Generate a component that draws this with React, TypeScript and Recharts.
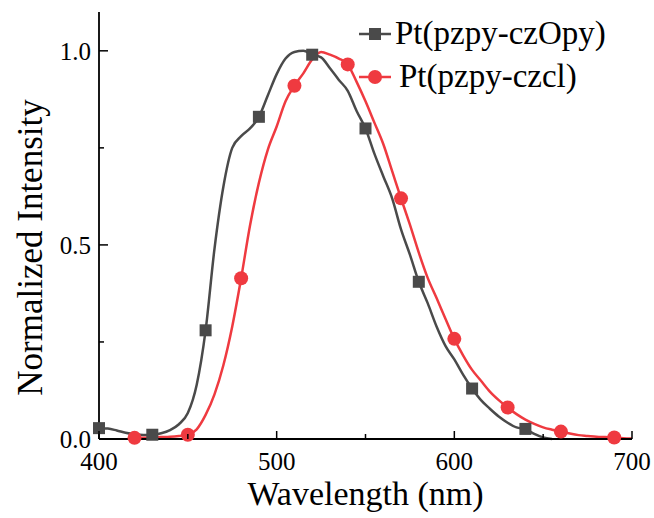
import { LineChart, Line, XAxis, YAxis, Legend } from 'recharts'

const WAVELENGTHS = [
  400, 405, 410, 415, 420, 425, 430, 435, 440, 445, 450, 455, 460, 465, 470, 475, 480, 485, 490, 495,
  500, 505, 510, 515, 520, 525, 530, 535, 540, 545, 550, 555, 560, 565, 570, 575, 580, 585, 590, 595,
  600, 605, 610, 615, 620, 625, 630, 635, 640, 645, 650, 655, 660, 665, 670, 675, 680, 685, 690, 695,
  700,
]

// Pt(pzpy-czOpy), 400..655 nm every 5 nm
const CZOPY_START = 400
const CZOPY = [
  0.028, 0.027, 0.022, 0.016, 0.012, 0.01, 0.011, 0.015, 0.023, 0.038, 0.067, 0.14, 0.28, 0.49, 0.65,
  0.75, 0.78, 0.8, 0.83, 0.885, 0.94, 0.98, 0.997, 1.0, 0.99, 0.983, 0.955, 0.925, 0.897, 0.845, 0.8,
  0.735, 0.677, 0.62, 0.54, 0.475, 0.405, 0.35, 0.29, 0.24, 0.205, 0.165, 0.13, 0.1, 0.078, 0.058,
  0.042, 0.03, 0.026, 0.013, 0.004, 0,
]

// Pt(pzpy-czcl), 420..700 nm every 5 nm
const CZCL_START = 420
const CZCL = [
  0.003, 0.003, 0.004, 0.005, 0.006, 0.008, 0.011, 0.025, 0.062, 0.115, 0.19, 0.29, 0.414, 0.55, 0.66,
  0.745, 0.805, 0.87, 0.91, 0.942, 0.978, 0.997, 0.99, 0.98, 0.965, 0.92, 0.87, 0.815, 0.76, 0.69,
  0.62, 0.552, 0.48, 0.415, 0.363, 0.31, 0.258, 0.215, 0.178, 0.15, 0.122, 0.1, 0.081, 0.064, 0.05,
  0.039, 0.03, 0.024, 0.019, 0.014, 0.01, 0.008, 0.006, 0.005, 0.004, 0.002, 0.001,
]

const CZOPY_MARKERS = [400, 430, 460, 490, 520, 550, 580, 610, 640]
const CZCL_MARKERS = [420, 450, 480, 510, 540, 570, 600, 630, 660, 690]

const X_TICKS = [400, 450, 500, 550, 600, 650, 700]
const X_TOP_TICKS = [400, 430, 460, 490, 520, 550, 580, 610, 640, 670, 700]
const Y_TICKS = [0, 0.25, 0.5, 0.75, 1.0]
const Y_RIGHT_TICKS = [0, 0.11, 0.22, 0.33, 0.44, 0.55, 0.66, 0.77, 0.88, 0.99, 1.1]

const GREY = '#4a4a4a'
const RED = '#ef3a40'
const FONT = "'Liberation Serif', 'Times New Roman', serif"

const data = WAVELENGTHS.map((wl) => {
  const i = (wl - CZOPY_START) / 5
  const j = (wl - CZCL_START) / 5
  return {
    wl,
    czopy: i >= 0 && i < CZOPY.length ? CZOPY[i] : null,
    czcl: j >= 0 && j < CZCL.length ? CZCL[j] : null,
  }
})

const squareDot = (props: any) => {
  const { cx, cy, payload, index } = props
  if (cx == null || cy == null || !CZOPY_MARKERS.includes(payload.wl)) return <g key={`s-${index}`} />
  return <rect key={`s-${index}`} x={cx - 6} y={cy - 6} width={12} height={12} fill={GREY} />
}

const circleDot = (props: any) => {
  const { cx, cy, payload, index } = props
  if (cx == null || cy == null || !CZCL_MARKERS.includes(payload.wl)) return <g key={`c-${index}`} />
  return <circle key={`c-${index}`} cx={cx} cy={cy} r={7} fill={RED} />
}

const BottomTick = (props: any) => {
  const { x, y, payload } = props
  const major = payload.value % 100 === 0
  return (
    <g>
      <line x1={x} x2={x} y1={y} y2={y - (major ? 8 : 5)} stroke="#000" strokeWidth={1.5} />
      {major && (
        <text x={x} y={y + 31} textAnchor="middle" style={{ fontFamily: FONT, fontSize: 25 }} fill="#000">
          {payload.value}
        </text>
      )}
    </g>
  )
}

const LeftTick = (props: any) => {
  const { x, y, payload } = props
  const major = Math.abs(payload.value * 2 - Math.round(payload.value * 2)) < 1e-6
  return (
    <g>
      <line x1={x} x2={x + (major ? 9 : 5)} y1={y} y2={y} stroke="#000" strokeWidth={1.5} />
      {major && (
        <text x={x - 8} y={y + 9} textAnchor="end" style={{ fontFamily: FONT, fontSize: 25 }} fill="#000">
          {payload.value.toFixed(1)}
        </text>
      )}
    </g>
  )
}

const TopTick = (props: any) => {
  const { x, y } = props
  return <line x1={x} x2={x} y1={y} y2={y + 4} stroke="#000" strokeWidth={1.2} />
}

const RightTick = (props: any) => {
  const { x, y } = props
  return <line x1={x} x2={x - 4} y1={y} y2={y} stroke="#000" strokeWidth={1.2} />
}

const LEGEND_ITEMS = [
  { name: 'Pt(pzpy-czOpy)', color: GREY, shape: 'square', gap: 4 },
  { name: 'Pt(pzpy-czcl)', color: RED, shape: 'circle', gap: 8 },
]

const renderLegend = () => (
  <div style={{ fontFamily: FONT, fontSize: 33, color: '#000' }}>
    {LEGEND_ITEMS.map((it) => (
      <div key={it.name} style={{ display: 'flex', alignItems: 'center', height: 43 }}>
        <svg width={32} height={20} style={{ display: 'block' }}>
          <line x1={0} x2={32} y1={10} y2={10} stroke={it.color} strokeWidth={2.5} />
          {it.shape === 'square' ? (
            <rect x={10} y={4} width={12} height={12} fill={it.color} />
          ) : (
            <circle cx={16} cy={10} r={7} fill={it.color} />
          )}
        </svg>
        <span style={{ marginLeft: it.gap, lineHeight: '43px', whiteSpace: 'nowrap' }}>{it.name}</span>
      </div>
    ))}
  </div>
)

export default function App() {
  return (
    <div style={{ position: 'absolute', left: 0, top: 0, width: 654, height: 518, fontFamily: FONT }}>
      <LineChart width={654} height={518} data={data} margin={{ top: 12, right: 22, bottom: 0, left: 0 }}>
        <XAxis
          dataKey="wl"
          type="number"
          domain={[400, 700]}
          ticks={X_TICKS}
          height={79}
          tickSize={0}
          tickMargin={0}
          tickLine={false}
          tick={<BottomTick />}
          axisLine={{ stroke: '#000', strokeWidth: 1.8 }}
          label={{
            content: (p: any) => (
              <text
                x={p.viewBox.x + p.viewBox.width / 2}
                y={505}
                textAnchor="middle"
                style={{ fontFamily: FONT, fontSize: 34 }}
                fill="#000"
              >
                Wavelength (nm)
              </text>
            ),
          }}
        />
        <XAxis
          xAxisId="top"
          orientation="top"
          dataKey="wl"
          type="number"
          domain={[400, 700]}
          ticks={X_TOP_TICKS}
          height={0}
          tickSize={0}
          tickMargin={0}
          tickLine={false}
          tick={<TopTick />}
          axisLine={{ stroke: '#000', strokeWidth: 1.8 }}
        />
        <YAxis
          type="number"
          domain={[0, 1.1]}
          ticks={Y_TICKS}
          width={99}
          tickSize={0}
          tickMargin={0}
          tickLine={false}
          tick={<LeftTick />}
          axisLine={{ stroke: '#000', strokeWidth: 1.8 }}
          label={{
            content: (p: any) => (
              <text
                x={30}
                y={p.viewBox.y + p.viewBox.height / 2 + 22}
                transform={`rotate(-90, 30, ${p.viewBox.y + p.viewBox.height / 2 + 22})`}
                textAnchor="middle"
                dominantBaseline="central"
                style={{ fontFamily: FONT, fontSize: 35 }}
                fill="#000"
              >
                Normalized Intensity
              </text>
            ),
          }}
        />
        <YAxis
          yAxisId="right"
          orientation="right"
          type="number"
          domain={[0, 1.1]}
          ticks={Y_RIGHT_TICKS}
          width={0}
          tickSize={0}
          tickMargin={0}
          tickLine={false}
          tick={<RightTick />}
          axisLine={{ stroke: '#000', strokeWidth: 1.8 }}
        />
        <Legend
          layout="vertical"
          align="center"
          verticalAlign="middle"
          content={renderLegend}
          wrapperStyle={{ position: 'absolute', left: 359, top: 12, width: 'auto', height: 'auto' }}
        />
        <Line
          dataKey="czopy"
          name="Pt(pzpy-czOpy)"
          type="monotone"
          stroke={GREY}
          strokeWidth={2.5}
          dot={squareDot}
          activeDot={false}
          isAnimationActive={false}
        />
        <Line
          dataKey="czcl"
          name="Pt(pzpy-czcl)"
          type="monotone"
          stroke={RED}
          strokeWidth={2.5}
          dot={circleDot}
          activeDot={false}
          isAnimationActive={false}
        />
      </LineChart>
    </div>
  )
}
